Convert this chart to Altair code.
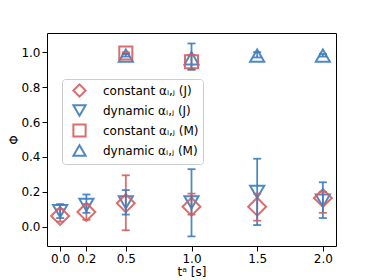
import altair as alt
import pandas as pd

series_names = ["constant αᵢ,ⱼ (J)", "dynamic αᵢ,ⱼ (J)", "constant αᵢ,ⱼ (M)", "dynamic αᵢ,ⱼ (M)"]
series_colors = ["#d65f5f", "#3b7dbf", "#d65f5f", "#3b7dbf"]
series_shapes = ["diamond", "triangle-down", "square", "triangle-up"]

t_J = [0.0, 0.2, 0.5, 1.0, 1.5, 2.0]
constJ_val = [0.062, 0.085, 0.135, 0.115, 0.115, 0.165]
constJ_lo = [0.030, 0.040, -0.020, 0.070, 0.035, 0.080]
constJ_hi = [0.100, 0.130, 0.295, 0.190, 0.190, 0.200]
dynJ_val = [0.090, 0.125, 0.140, 0.140, 0.200, 0.150]
dynJ_lo = [0.050, 0.080, 0.070, -0.055, 0.010, 0.050]
dynJ_hi = [0.130, 0.185, 0.210, 0.330, 0.390, 0.255]

t_M_const = [0.5, 1.0]
constM_val = [0.995, 0.945]
constM_lo = [0.990, 0.900]
constM_hi = [1.000, 0.985]
t_M_dyn = [0.5, 1.0, 1.5, 2.0]
dynM_val = [0.980, 0.965, 0.980, 0.980]
dynM_lo = [0.975, 0.900, 0.970, 0.975]
dynM_hi = [0.990, 1.050, 1.000, 0.990]

x_ticks = [0.0, 0.2, 0.5, 1.0, 1.5, 2.0]
y_ticks = [0.0, 0.2, 0.4, 0.6, 0.8, 1.0]

rows = []
for name, ts, v, lo, hi in [
    (series_names[0], t_J, constJ_val, constJ_lo, constJ_hi),
    (series_names[1], t_J, dynJ_val, dynJ_lo, dynJ_hi),
    (series_names[2], t_M_const, constM_val, constM_lo, constM_hi),
    (series_names[3], t_M_dyn, dynM_val, dynM_lo, dynM_hi),
]:
    for t, a, b, c in zip(ts, v, lo, hi):
        rows.append({"series": name, "t": t, "val": a, "lo": b, "hi": c})
df = pd.DataFrame(rows)

xs = alt.Scale(domain=[-0.1, 2.1], nice=False, zero=False)
ys = alt.Scale(domain=[-0.11, 1.11], nice=False, zero=False)
cscale = alt.Scale(domain=series_names, range=series_colors)
sscale = alt.Scale(domain=series_names, range=series_shapes)

legend = alt.Legend(title=None, orient="none", legendX=15, legendY=46,
                    labelFontSize=12, labelFont="DejaVu Sans", labelColor="black",
                    symbolSize=150, symbolStrokeWidth=2, rowPadding=0,
                    padding=4, symbolOffset=6, strokeColor="#cccccc", fillColor="white",
                    cornerRadius=3, labelOffset=16, symbolOpacity=0.9,
                    symbolFillColor="transparent")

xaxis = alt.Axis(values=x_ticks, format=".1f", title="tᵃ [s]", grid=False,
                 labelFontSize=12, titleFontSize=12, titleFontWeight="normal",
                 labelColor="black", titleColor="black", tickColor="black",
                 domain=False, labelFont="DejaVu Sans", titleFont="DejaVu Sans",
                 titlePadding=2)
yaxis = alt.Axis(values=y_ticks, format=".1f", title="Φ", grid=False,
                 labelFontSize=12, titleFontSize=12, titleFontWeight="normal",
                 labelColor="black", titleColor="black", tickColor="black",
                 domain=False, labelFont="DejaVu Sans", titleFont="DejaVu Sans",
                 titlePadding=0, labelPadding=2)

base = alt.Chart(df)

# triangles (carry the legend)
points_tri = base.transform_filter(
    alt.FieldOneOfPredicate(field="series", oneOf=[series_names[1], series_names[3]])
).mark_point(filled=False, strokeWidth=2, opacity=0.9, size=200).encode(
    x=alt.X("t:Q", scale=xs, axis=xaxis),
    y=alt.Y("val:Q", scale=ys, axis=yaxis),
    color=alt.Color("series:N", scale=cscale, legend=legend),
    shape=alt.Shape("series:N", scale=sscale, legend=legend),
)

ccol = alt.Color("series:N", scale=cscale, legend=None)
cshape = alt.Shape("series:N", scale=sscale, legend=None)

points_dia = base.transform_filter(
    alt.datum.series == series_names[0]
).mark_point(filled=False, strokeWidth=2, opacity=0.9, size=320).encode(
    x=alt.X("t:Q", scale=xs), y=alt.Y("val:Q", scale=ys), color=ccol, shape=cshape,
)
points_sq = base.transform_filter(
    alt.datum.series == series_names[2]
).mark_point(filled=False, strokeWidth=2, opacity=0.9, size=170).encode(
    x=alt.X("t:Q", scale=xs), y=alt.Y("val:Q", scale=ys), color=ccol, shape=cshape,
)

rules = base.mark_rule(strokeWidth=1.8, opacity=0.9).encode(
    x=alt.X("t:Q", scale=xs),
    y=alt.Y("lo:Q", scale=ys),
    y2="hi:Q",
    color=ccol,
)
cap_lo = base.mark_tick(orient="horizontal", size=8, thickness=1.8, opacity=0.9).encode(
    x=alt.X("t:Q", scale=xs), y=alt.Y("lo:Q", scale=ys), color=ccol
)
cap_hi = base.mark_tick(orient="horizontal", size=8, thickness=1.8, opacity=0.9).encode(
    x=alt.X("t:Q", scale=xs), y=alt.Y("hi:Q", scale=ys), color=ccol
)

chart = alt.layer(points_tri, points_dia, points_sq, rules, cap_lo, cap_hi).resolve_legend(
    color="independent", shape="independent"
).properties(
    width=289, height=213,
    autosize=alt.AutoSizeParams(type="none"),
    padding={"left": 39, "top": 25, "right": 30, "bottom": 34},
    background="white",
).configure_view(stroke="black", strokeWidth=1)

chart.save("out.html", embed_options={"renderer": "svg", "actions": False})
